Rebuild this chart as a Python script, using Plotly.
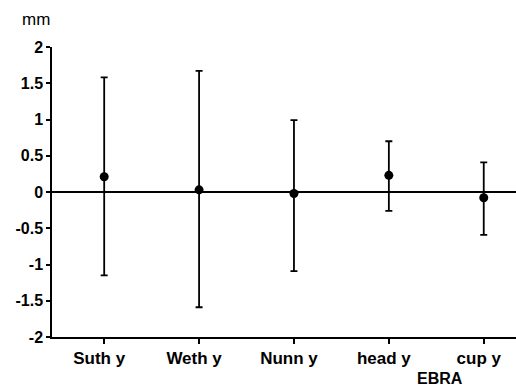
import plotly.graph_objects as go

categories = ["Suth y", "Weth y", "Nunn y", "head y", "cup y"]
means = [0.21, 0.03, -0.02, 0.23, -0.08]
upper = [1.58, 1.67, 0.99, 0.70, 0.41]
lower = [-1.15, -1.59, -1.09, -0.26, -0.59]
y_ticks = [2, 1.5, 1, 0.5, 0, -0.5, -1, -1.5, -2]
y_tick_text = ["2", "1.5", "1", "0.5", "0", "-0.5", "-1", "-1.5", "-2"]

err_plus = [u - m for u, m in zip(upper, means)]
err_minus = [m - l for m, l in zip(means, lower)]
xpos = list(range(len(categories)))

font = "Liberation Sans, Arial, Helvetica, sans-serif"

fig = go.Figure()
fig.add_trace(go.Scatter(
    x=xpos, y=means, mode="markers",
    marker=dict(color="black", size=9),
    error_y=dict(type="data", symmetric=False, array=err_plus, arrayminus=err_minus,
                 color="black", thickness=1.8, width=3.5),
    showlegend=False,
))

fig.update_layout(
    width=516, height=389,
    margin=dict(l=52, r=0, t=47, b=52),
    paper_bgcolor="white", plot_bgcolor="white",
    font=dict(family=font, size=16, color="black"),
    xaxis=dict(
        range=[-0.55, 4.34], tickmode="array", tickvals=xpos, ticktext=categories,
        showgrid=False, zeroline=False, showline=True, linecolor="black", linewidth=2,
        ticks="outside", ticklen=5, tickwidth=1.5, tickcolor="black",
        tickfont=dict(size=17, family=font, weight="bold"), ticklabelshift=-5,
    ),
    yaxis=dict(
        range=[-2, 2], tickmode="array", tickvals=y_ticks, ticktext=y_tick_text,
        showgrid=False, zeroline=True, zerolinecolor="black", zerolinewidth=1.5,
        showline=True, linecolor="black", linewidth=1.5,
        ticks="outside", ticklen=4, tickwidth=1.5, tickcolor="black",
        tickfont=dict(size=16, family=font, weight="bold"),
    ),
)
fig.add_annotation(text="mm", xref="paper", yref="paper", x=(36 - 52) / 464, y=(389 - 52 - 19.5) / 290,
                   showarrow=False, font=dict(size=17, family=font), xanchor="center", yanchor="middle")
fig.add_annotation(text="EBRA", xref="paper", yref="paper", x=(440 - 52) / 464, y=(389 - 52 - 378.5) / 290,
                   showarrow=False, font=dict(size=16, family=font, weight="bold"), xanchor="center", yanchor="middle")

fig.write_html("out.html")
